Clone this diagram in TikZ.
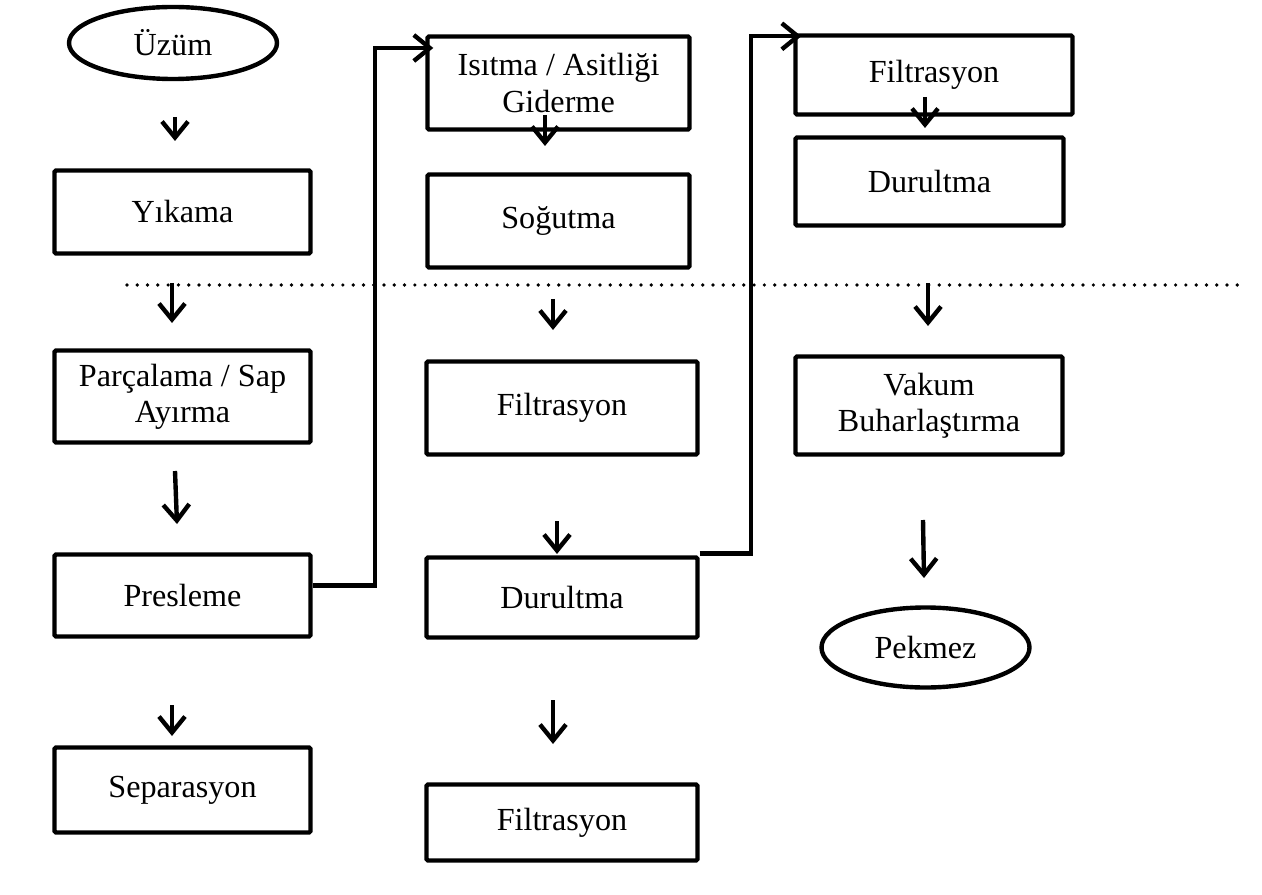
\documentclass[tikz,border=0pt]{standalone}
\usepackage{fontspec}
\setmainfont{Liberation Serif}
\usetikzlibrary{shapes.geometric,arrows.meta}

\begin{document}
\begin{tikzpicture}[x=0.2mm, y=-0.2mm,
  procbox/.style={shape=rectangle, draw, line width=2.5pt, rounded corners=0.8pt,
    align=center, inner sep=0pt, font=\fontsize{18.3}{20.5}\selectfont},
  termnode/.style={shape=ellipse, draw, line width=2.5pt, inner sep=0pt,
    font=\fontsize{18.3}{20.5}\selectfont},
  flow/.style={-{Straight Barb[length=3.2mm, width=5.2mm]}, line width=2.5pt},
  sepline/.style={line width=2.1pt, line cap=round, dash pattern=on 0pt off 5.85pt}]
\useasboundingbox (0,0) rectangle (1262,895);

% first column
\node at (173, 43) [termnode, minimum width=41.6mm, minimum height=14.4mm] (uzum) {Üzüm};
\node at (182.5, 212) [procbox, minimum width=51.2mm, minimum height=16.6mm] (yikama) {Yıkama};
\node at (182.5, 396.5) [procbox, minimum width=51.2mm, minimum height=18.4mm] (parcalama) {Parçalama / Sap\\Ayırma};
\node at (182.5, 595.5) [procbox, minimum width=51.2mm, minimum height=16.4mm] (presleme) {Presleme};
\node at (182.5, 790) [procbox, minimum width=51.2mm, minimum height=17mm] (separasyon) {Separasyon};

% second column
\node at (558.5, 83) [procbox, minimum width=52.4mm, minimum height=18.6mm] (isitma) {Isıtma / Asitliği\\Giderme};
\node at (558.5, 221) [procbox, minimum width=52.4mm, minimum height=18.6mm] (sogutma) {Soğutma};
\node at (562, 408) [procbox, minimum width=54.2mm, minimum height=18.6mm] (filtreA) {Filtrasyon};
\node at (562, 597.5) [procbox, minimum width=54.2mm, minimum height=16mm] (durultmaA) {Durultma};
\node at (562, 822.5) [procbox, minimum width=54.2mm, minimum height=15.2mm] (filtreB) {Filtrasyon};

% third column
\node at (934, 75) [procbox, minimum width=55.4mm, minimum height=15.8mm] (filtreC) {Filtrasyon};
\node at (929.5, 181.5) [procbox, minimum width=53.6mm, minimum height=17.6mm] (durultmaB) {Durultma};
\node at (929, 405.5) [procbox, minimum width=53.4mm, minimum height=19.6mm] (vakum) {Vakum\\Buharlaştırma};
\node at (925.5, 647.5) [termnode, minimum width=41.6mm, minimum height=16mm] (pekmez) {Pekmez};

% dotted separator
\coordinate (sepL) at (127, 285);
\coordinate (sepR) at (1240, 285);
\draw [sepline] (sepL) to (sepR);

% short arrows
\coordinate (a1s) at (175, 117);  \coordinate (a1e) at (175, 141);
\coordinate (a2s) at (172, 283);  \coordinate (a2e) at (172, 323);
\coordinate (a3s) at (175, 471);  \coordinate (a3e) at (177, 524);
\coordinate (a4s) at (172, 705);  \coordinate (a4e) at (172, 736);
\coordinate (b1s) at (545, 115);  \coordinate (b1e) at (545, 146);
\coordinate (b2s) at (553, 299);  \coordinate (b2e) at (553, 330);
\coordinate (b3s) at (557, 521);  \coordinate (b3e) at (557, 554);
\coordinate (b4s) at (553, 700);  \coordinate (b4e) at (553, 744);
\coordinate (c1s) at (925, 97);   \coordinate (c1e) at (925, 128);
\coordinate (c2s) at (928, 283);  \coordinate (c2e) at (928, 326);
\coordinate (c3s) at (923, 520);  \coordinate (c3e) at (924, 578);
\draw [flow] (a1s) to (a1e);
\draw [flow] (a2s) to (a2e);
\draw [flow] (a3s) to (a3e);
\draw [flow] (a4s) to (a4e);
\draw [flow] (b1s) to (b1e);
\draw [flow] (b2s) to (b2e);
\draw [flow] (b3s) to (b3e);
\draw [flow] (b4s) to (b4e);
\draw [flow] (c1s) to (c1e);
\draw [flow] (c2s) to (c2e);
\draw [flow] (c3s) to (c3e);

% links between columns
\draw [flow, shorten >=-1.6mm] ([yshift=2mm]presleme.east) -- ++(62,0) |- ([yshift=7mm]isitma.west);
\draw [flow, shorten >=-1.6mm] ([yshift=0.4mm]durultmaA.north east) -- ++(51,0) |- ([yshift=-0.6mm]filtreC.north west);
\end{tikzpicture}
\end{document}
